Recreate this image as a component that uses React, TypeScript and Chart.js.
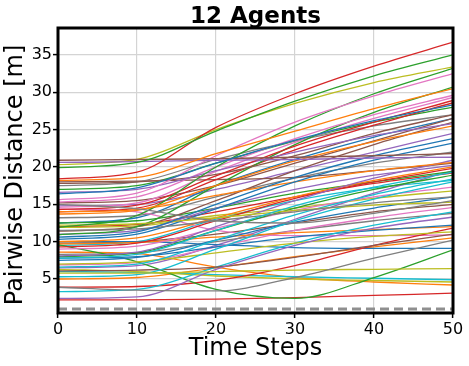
import React, { useEffect, useRef } from "react";
import { Chart, registerables } from "chart.js";

Chart.register(...registerables);

const chartTitle = "12 Agents";
const xAxisTitle = "Time Steps";
const yAxisTitle = "Pairwise Distance [m]";

const timeSteps = [0, 10, 20, 30, 40, 50];
const xTickValues = [0, 10, 20, 30, 40, 50];
const yTickValues = [5, 10, 15, 20, 25, 30, 35];
const safetyDistance = 1.0;

const tab10 = [
  "#1f77b4", "#ff7f0e", "#2ca02c", "#d62728", "#9467bd",
  "#8c564b", "#e377c2", "#7f7f7f", "#bcbd22", "#17becf",
];

// 66 agent pairs, distance at each of the timeSteps
const pairDistances: number[][] = [
  [16.4, 17.2, 20.5, 23.6, 26.2, 28.3],
  [18.2, 18.6, 21.8, 24.8, 27.8, 30.5],
  [19.9, 20.6, 24.8, 28.8, 32.2, 35.0],
  [18.4, 19.3, 25.3, 29.8, 33.5, 36.7],
  [20.6, 20.7, 20.9, 21.0, 21.2, 21.3],
  [20.9, 21.0, 21.1, 21.3, 21.5, 21.8],
  [15.6, 16.5, 21.5, 26.0, 29.5, 32.5],
  [15.0, 14.4, 12.8, 12.5, 13.8, 15.5],
  [20.3, 21.0, 25.0, 28.5, 31.3, 33.4],
  [7.8, 8.3, 11.5, 14.8, 17.3, 19.3],

  [10.6, 11.3, 15.0, 18.6, 21.5, 23.8],
  [13.7, 14.2, 17.5, 20.8, 23.4, 25.5],
  [11.9, 13.5, 20.0, 25.5, 29.8, 33.2],
  [14.3, 14.9, 18.8, 22.8, 26.0, 28.9],
  [16.6, 17.0, 19.5, 22.0, 24.2, 25.8],
  [17.8, 18.0, 19.0, 21.5, 24.5, 27.0],
  [15.3, 16.0, 20.0, 23.8, 27.0, 29.6],
  [11.5, 11.7, 12.8, 14.0, 15.2, 16.0],
  [12.2, 12.4, 13.2, 14.2, 14.9, 15.3],
  [6.6, 7.0, 10.2, 13.6, 16.3, 18.4],

  [10.3, 11.0, 14.4, 18.0, 20.9, 23.2],
  [14.0, 14.3, 16.2, 18.0, 19.5, 20.6],
  [10.9, 12.0, 17.5, 23.0, 27.3, 30.7],
  [14.0, 14.5, 18.3, 22.3, 25.6, 28.6],
  [8.1, 8.6, 12.0, 15.5, 18.5, 20.9],
  [11.4, 12.0, 15.5, 19.5, 23.0, 26.0],
  [14.6, 15.2, 19.4, 23.3, 26.5, 29.3],
  [3.9, 3.5, 3.4, 5.2, 7.8, 10.2],
  [5.8, 5.8, 6.0, 6.2, 6.3, 6.4],
  [5.3, 5.6, 9.0, 12.8, 15.7, 18.0],

  [7.5, 7.9, 10.2, 12.6, 14.5, 16.0],
  [10.0, 10.5, 13.2, 16.0, 18.2, 20.0],
  [8.0, 8.5, 11.5, 14.5, 17.0, 18.9],
  [9.3, 9.8, 12.8, 15.8, 18.0, 19.8],
  [2.4, 2.6, 6.3, 9.5, 11.8, 13.3],
  [6.1, 6.2, 6.6, 7.9, 9.5, 11.0],
  [9.0, 9.4, 11.8, 14.2, 16.0, 17.3],
  [17.5, 18.0, 21.0, 23.5, 25.5, 27.0],
  [7.0, 7.3, 8.5, 9.8, 10.7, 11.3],
  [3.3, 3.6, 6.6, 9.8, 12.2, 14.0],

  [7.8, 8.0, 9.3, 10.6, 11.5, 12.2],
  [9.7, 9.9, 10.6, 11.2, 11.6, 12.0],
  [9.6, 7.3, 3.6, 2.4, 5.2, 8.9],
  [3.9, 4.0, 4.8, 6.8, 9.5, 11.8],
  [11.0, 11.5, 14.5, 17.0, 18.9, 20.2],
  [18.0, 18.1, 18.3, 18.6, 19.5, 20.5],
  [6.9, 7.2, 9.3, 11.5, 13.2, 14.6],
  [8.3, 8.5, 10.0, 11.5, 12.8, 13.8],
  [6.3, 6.0, 5.4, 5.0, 4.8, 4.6],
  [6.0, 5.9, 5.6, 5.3, 5.1, 4.9],

  [10.0, 10.0, 9.6, 9.2, 9.1, 9.1],
  [8.6, 8.4, 6.6, 5.2, 4.6, 4.2],
  [12.5, 12.8, 14.5, 16.5, 18.0, 19.4],
  [2.2, 2.2, 2.3, 2.5, 2.8, 3.1],
  [6.5, 6.8, 9.5, 13.0, 16.5, 19.5],
  [15.2, 15.5, 17.5, 20.5, 23.5, 26.5],
  [14.4, 14.0, 11.5, 10.8, 10.8, 10.9],
  [13.2, 13.5, 16.0, 18.5, 20.5, 22.0],
  [11.9, 12.1, 13.5, 14.5, 15.8, 16.8],
  [9.5, 10.0, 13.0, 15.5, 17.2, 18.2],

  [12.5, 13.2, 17.5, 21.0, 24.0, 26.5],
  [5.0, 5.2, 6.5, 8.0, 9.3, 10.5],
  [17.0, 17.5, 20.5, 23.5, 26.0, 28.0],
  [12.0, 12.3, 14.0, 16.0, 17.8, 19.2],
  [14.8, 15.0, 17.0, 19.5, 22.0, 24.5],
  [9.8, 10.0, 11.0, 12.5, 14.0, 15.0],
];

const FONT = '"DejaVu Sans", sans-serif';

const framePlugin = {
  id: "frameAndTitles",
  afterDraw(chart: any) {
    const { ctx, chartArea: a } = chart;
    ctx.save();
    ctx.lineWidth = 3;
    ctx.strokeStyle = "#000";
    ctx.strokeRect(a.left, a.top, a.right - a.left, a.bottom - a.top);
    ctx.fillStyle = "#000";
    ctx.textAlign = "center";
    ctx.textBaseline = "alphabetic";
    ctx.font = `bold 23px ${FONT}`;
    ctx.fillText(chartTitle, (a.left + a.right) / 2, 23);
    ctx.font = `24px ${FONT}`;
    ctx.fillText(xAxisTitle, (a.left + a.right) / 2, 355);
    ctx.translate(16, 175);
    ctx.rotate(-Math.PI / 2);
    ctx.textBaseline = "middle";
    ctx.fillText(yAxisTitle, 0, 0);
    ctx.restore();
  },
};

export default function App() {
  const canvasRef = useRef<HTMLCanvasElement | null>(null);

  useEffect(() => {
    document.body.style.margin = "0";
    const canvas = canvasRef.current;
    if (!canvas) return;

    const datasets: any[] = pairDistances.map((row, i) => ({
      data: timeSteps.map((t, j) => ({ x: t, y: row[j] })),
      borderColor: tab10[i % 10],
      borderWidth: 1.3,
      pointRadius: 0,
      fill: false,
      cubicInterpolationMode: "monotone",
    }));
    datasets.push({
      data: [
        { x: xTickValues[0], y: safetyDistance },
        { x: xTickValues[xTickValues.length - 1], y: safetyDistance },
      ],
      borderColor: "#8f8f8f",
      borderWidth: 3,
      borderDash: [9, 5],
      pointRadius: 0,
      fill: false,
    });

    const chart = new Chart(canvas, {
      type: "line",
      data: { datasets },
      options: {
        responsive: false,
        animation: false,
        layout: { padding: { top: 28, right: 16, left: 0, bottom: 0 } },
        plugins: {
          legend: { display: false },
          tooltip: { enabled: false },
          title: { display: false },
        },
        scales: {
          x: {
            type: "linear",
            min: 0,
            max: 50,
            afterBuildTicks: (s: any) => {
              s.ticks = xTickValues.map((v) => ({ value: v }));
            },
            afterFit: (s: any) => {
              s.height = 53;
            },
            ticks: {
              color: "#000",
              font: { family: FONT, size: 16 },
              padding: 2,
              maxRotation: 0,
            },
            grid: {
              color: "#d4d4d4",
              lineWidth: 1.2,
              tickLength: 5,
              tickColor: "#000",
              tickWidth: 1.5,
            },
            border: { display: false },
          },
          y: {
            type: "linear",
            min: 0.45,
            max: 38.6,
            afterBuildTicks: (s: any) => {
              s.ticks = yTickValues.map((v) => ({ value: v }));
            },
            afterFit: (s: any) => {
              s.width = 58;
            },
            ticks: {
              color: "#000",
              font: { family: FONT, size: 16 },
              padding: 1,
            },
            grid: {
              color: "#d4d4d4",
              lineWidth: 1.2,
              tickLength: 5,
              tickColor: "#000",
              tickWidth: 1.5,
            },
            border: { display: false },
          },
        },
      },
      plugins: [framePlugin],
    } as any);

    return () => chart.destroy();
  }, []);

  return (
    <canvas
      ref={canvasRef}
      width={469}
      height={366}
      style={{ display: "block", width: 469, height: 366 }}
    />
  );
}
